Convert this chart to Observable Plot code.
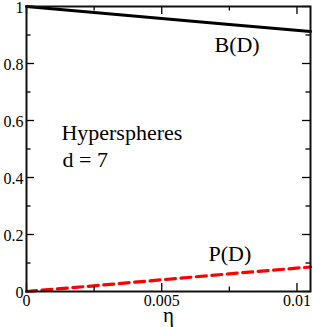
<!DOCTYPE html>
<html>
<head>
<meta charset="utf-8">
<script src="https://cdn.jsdelivr.net/npm/d3@7"></script>
<script src="https://cdn.jsdelivr.net/npm/@observablehq/plot@0.6"></script>
<style>
  html, body { margin: 0; padding: 0; background: white; }
</style>
</head>
<body>
<div id="chart"></div>
<script>
// Data
const eta = [0, 0.0025, 0.005, 0.0075, 0.0105];
const bValues = [1.0, 0.979, 0.958, 0.937, 0.912];
const pValues = [0.0, 0.020, 0.041, 0.062, 0.086];

const xMajorTicks = [0, 0.005, 0.01];
const xMinorTicks = [0.0025, 0.0075];
const xTickLabels = ["0", "0.005", "0.01"];
const yMajorTicks = [0, 0.2, 0.4, 0.6, 0.8, 1];
const yMinorTicks = [0.1, 0.3, 0.5, 0.7, 0.9];
const yTickLabels = ["0", "0.2", "0.4", "0.6", "0.8", "1"];
const xLabel = "η";

const annText = ["B(D)", "P(D)", "Hyperspheres", "d = 7"];
const annEta = [0.00695, 0.00673, 0.00129, 0.00133];
const annVal = [0.866, 0.130, 0.557, 0.460];

const bSeries = eta.map((e, i) => ({eta: e, v: bValues[i]}));
const pSeries = eta.map((e, i) => ({eta: e, v: pValues[i]}));
const annotations = annText.map((t, i) => ({text: t, eta: annEta[i], v: annVal[i]}));

const FONT = "Liberation Serif";
const W = 313, H = 327;
const mTop = 6, mRight = 3, mBottom = 36, mLeft = 26;
const innerW = W - mLeft - mRight, innerH = H - mTop - mBottom;
const major = 8, minor = 4.5;

const chart = Plot.plot({
  width: W,
  height: H,
  marginTop: mTop,
  marginRight: mRight,
  marginBottom: mBottom,
  marginLeft: mLeft,
  style: {fontFamily: FONT, fontSize: "16px", background: "white", color: "black", overflow: "visible"},
  x: {domain: [0, 0.0105]},
  y: {domain: [0, 1]},
  marks: [
    // lines
    Plot.line(bSeries, {x: "eta", y: "v", stroke: "black", strokeWidth: 3}),
    Plot.line(pSeries, {x: "eta", y: "v", stroke: "#ff0000", strokeWidth: 3.2, strokeDasharray: "10,5.5"}),
    // inward ticks: bottom & top
    Plot.ruleX(xMajorTicks, {x: d => d, insetTop: innerH - major, stroke: "black", strokeWidth: 1.3}),
    Plot.ruleX(xMajorTicks, {x: d => d, insetBottom: innerH - major, stroke: "black", strokeWidth: 1.3}),
    Plot.ruleX(xMinorTicks, {x: d => d, insetTop: innerH - minor, stroke: "black", strokeWidth: 1.3}),
    Plot.ruleX(xMinorTicks, {x: d => d, insetBottom: innerH - minor, stroke: "black", strokeWidth: 1.3}),
    // inward ticks: left & right
    Plot.ruleY(yMajorTicks, {y: d => d, insetRight: innerW - major, stroke: "black", strokeWidth: 1.3}),
    Plot.ruleY(yMajorTicks, {y: d => d, insetLeft: innerW - major, stroke: "black", strokeWidth: 1.3}),
    Plot.ruleY(yMinorTicks, {y: d => d, insetRight: innerW - minor, stroke: "black", strokeWidth: 1.3}),
    Plot.ruleY(yMinorTicks, {y: d => d, insetLeft: innerW - minor, stroke: "black", strokeWidth: 1.3}),
    Plot.frame({stroke: "#111", strokeWidth: 2}),
    // tick labels
    Plot.axisX(xMajorTicks, {anchor: "bottom", tickSize: 0, tickPadding: 3, tickFormat: (d, i) => xTickLabels[i], label: null, fontSize: 16, fontFamily: FONT}),
    Plot.axisY(yMajorTicks, {anchor: "left", tickSize: 0, tickPadding: 3, dy: 1, tickFormat: (d, i) => yTickLabels[i], label: null, fontSize: 16, fontFamily: FONT}),
    // axis label
    Plot.text([xLabel], {frameAnchor: "bottom", lineAnchor: "middle", dy: 24, text: d => d, fontSize: 21, fontFamily: FONT, fill: "black"}),
    // annotations
    Plot.text(annotations, {x: "eta", y: "v", text: "text", textAnchor: "start", lineAnchor: "middle", fontSize: 22, fontFamily: FONT, fill: "black"})
  ]
});
document.getElementById("chart").appendChild(chart);
</script>
</body>
</html>
